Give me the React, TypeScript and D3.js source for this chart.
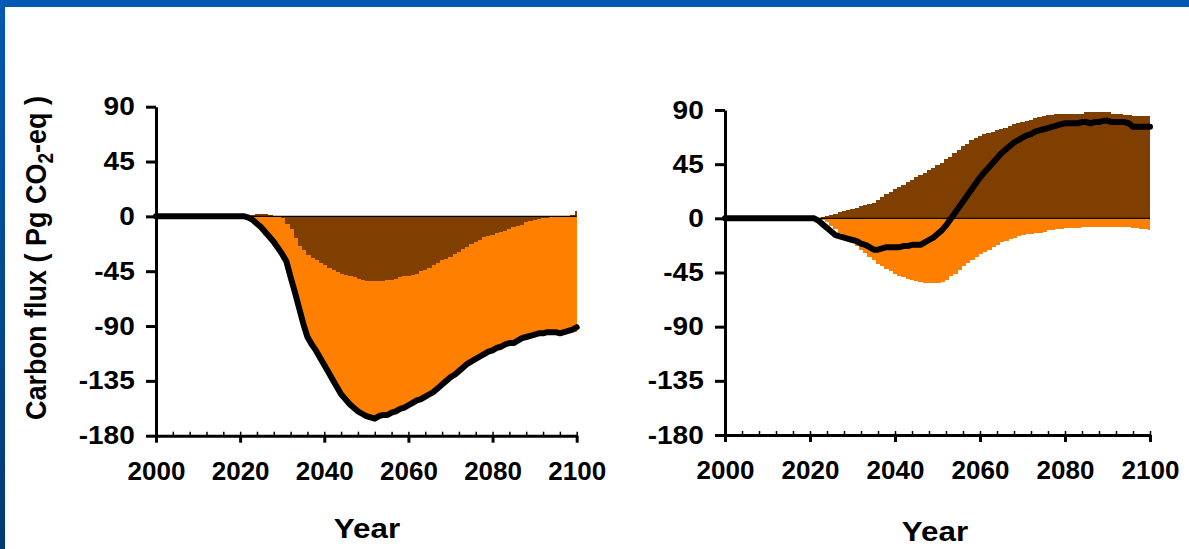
import { useEffect, useRef } from "react"
import {
  axisBottom,
  axisLeft,
  line,
  range,
  scaleLinear,
  select,
  stack,
  stackOffsetDiverging
} from "d3"

const years = range(2000, 2101)
const yTicks = [90, 45, 0, -45, -90, -135, -180]
const xTicks = [2000, 2020, 2040, 2060, 2080, 2100]
const minorTicks = range(2000, 2101, 4)

// left panel: net flux (black line) and the dark component; orange = net - dark
const leftNet = [
  0, 0, 0, 0, 0, 0, 0, 0, 0, 0, 0, 0, 0, 0, 0, 0, 0, 0, 0, 0, 0, 0,
  -1, -3, -6, -9, -13, -17, -21, -26, -31,
  -37, -50, -62, -75, -88, -99, -105, -110, -116, -122,
  -128, -134, -140, -146, -150, -154, -157, -160, -162, -164,
  -165, -166, -164, -163, -163, -161, -160, -158, -157, -155,
  -153, -151, -150, -148, -146, -144, -141, -138, -135, -132,
  -130, -127, -124, -121, -119, -117, -115, -113, -111, -110,
  -108, -107, -105, -104, -104, -102, -100, -99, -98, -97,
  -96, -96, -95, -95, -95, -96, -95, -94, -93, -91
]
const leftBrown = [
  0, 0, 0, 0, 0, 0, 0, 0, 0, 0, 0, 0, 0, 0, 0, 0, 0, 0, 0, 0, 0, 0, 0,
  1, 2, 2, 2, 1, 0, 0, -1,
  -6, -10, -18, -24, -28, -32, -34, -36, -38, -40,
  -42, -44, -46, -47, -48, -49, -50, -51, -52, -53,
  -53, -53, -53, -53, -52, -52, -51, -50, -49, -49,
  -48, -47, -45, -44, -42, -40, -38, -36, -35, -33,
  -31, -29, -27, -25, -23, -21, -19, -17, -16, -15,
  -14, -13, -12, -10, -9, -8, -7, -5, -4, -3,
  -2, -1, -1, 0, 0, 0, 0, 0, 1, 4
]

// right panel
const rightNet = [
  0, 0, 0, 0, 0, 0, 0, 0, 0, 0, 0, 0, 0, 0, 0, 0, 0, 0, 0, 0, 0, 0,
  -2, -5, -8, -11, -14, -15, -16, -17, -18,
  -19, -21, -22, -24, -26, -26, -25, -24, -24, -24,
  -24, -23, -23, -22, -22, -22, -20, -18, -16, -13,
  -10, -6, -1, 4, 9, 14, 19, 24, 29, 34,
  38, 42, 46, 50, 54, 57, 60, 63, 65, 67,
  69, 70, 72, 73, 74, 75, 76, 77, 78, 79,
  79, 79, 79, 80, 80, 79, 80, 80, 81, 81,
  80, 80, 80, 80, 79, 76, 76, 76, 76, 76
]
const rightBrown = [
  0, 0, 0, 0, 0, 0, 0, 0, 0, 0, 0, 0, 0, 0, 0, 0, 0, 0, 0, 0, 0, 0, 0,
  1, 2, 3, 4, 5, 6, 7, 8,
  9, 10, 11, 12, 13, 15, 18, 20, 22, 24,
  26, 28, 30, 32, 34, 36, 38, 40, 42, 44,
  46, 49, 51, 54, 57, 60, 62, 65, 67, 68,
  70, 71, 72, 73, 74, 75, 77, 78, 79, 80,
  81, 82, 83, 84, 85, 86, 86, 87, 87, 87,
  87, 87, 87, 87, 88, 88, 88, 88, 88, 88,
  87, 87, 87, 86, 86, 85, 85, 85, 85, 85
]
const rightOrange = [
  0, 0, 0, 0, 0, 0, 0, 0, 0, 0, 0, 0, 0, 0, 0, 0, 0, 0, 0, 0, 0, 0, 0,
  -1, -3, -6, -9, -12, -15, -17, -20,
  -23, -26, -29, -32, -35, -38, -40, -42, -44, -46,
  -48, -49, -50, -51, -52, -53, -54, -54, -54, -54,
  -53, -51, -48, -46, -43, -40, -37, -35, -32, -30,
  -28, -26, -24, -22, -20, -19, -17, -16, -15, -14,
  -13, -13, -12, -12, -11, -10, -10, -9, -9, -8,
  -8, -8, -8, -7, -7, -7, -7, -7, -7, -7,
  -7, -7, -7, -7, -7, -8, -8, -9, -9, -10
]

const BROWN = "#7f3f00"
const ORANGE = "#ff8000"
const FONT = "'Liberation Sans', Arial, sans-serif"

function AxisY({ scale, x }) {
  const ref = useRef(null)
  useEffect(() => {
    if (!ref.current) return
    const g = select(ref.current)
    g.call(axisLeft(scale).tickValues(yTicks).tickSize(10).tickSizeOuter(0).tickPadding(9).tickFormat(d => String(d)))
    g.attr("font-size", null).attr("font-family", null)
    g.select(".domain").attr("stroke-width", 3).attr("stroke", "#000")
    g.selectAll(".tick line").attr("stroke-width", 3).attr("stroke", "#000")
    g.selectAll(".tick text")
      .attr("font-size", 25)
      .attr("font-weight", "bold")
      .attr("font-family", FONT)
      .attr("fill", "#000")
      .attr("transform", "scale(1.12,1)")
  }, [scale])
  return <g ref={ref} transform={`translate(${x},0)`} />
}

function AxisX({ scale, y }) {
  const ref = useRef(null)
  const minorRef = useRef(null)
  useEffect(() => {
    if (!ref.current) return
    const g = select(ref.current)
    g.call(axisBottom(scale).tickValues(xTicks).tickSize(7).tickSizeOuter(0).tickPadding(19).tickFormat(d => String(d)))
    g.attr("font-size", null).attr("font-family", null)
    g.select(".domain").attr("stroke-width", 3).attr("stroke", "#000")
    g.selectAll(".tick line").attr("stroke-width", 3).attr("stroke", "#000")
    g.selectAll(".tick text")
      .attr("font-size", 26)
      .attr("font-weight", "bold")
      .attr("font-family", FONT)
      .attr("fill", "#000")
    const m = select(minorRef.current)
    m.call(axisBottom(scale).tickValues(minorTicks).tickSize(-4).tickSizeOuter(0).tickFormat(() => ""))
    m.select(".domain").remove()
    m.selectAll(".tick line").attr("stroke-width", 1.5).attr("stroke", "#000")
  }, [scale])
  return (
    <g transform={`translate(0,${y})`}>
      <g ref={minorRef} />
      <g ref={ref} />
    </g>
  )
}

function Panel({ net, brown, orange, box, yearX, yearY }) {
  const x = scaleLinear().domain([2000, 2100]).range([box.x0, box.x1])
  const y = scaleLinear().domain([-180, 90]).range([box.yBot, box.yTop])

  const rows = years.map((yr, i) => ({ year: yr, brown: brown[i], orange: orange[i] }))
  const series = stack().keys(["brown", "orange"]).offset(stackOffsetDiverging)(rows)
  const colors = { brown: BROWN, orange: ORANGE }

  const netLine = line()
    .x((d, i) => x(years[i]))
    .y(d => y(d))

  return (
    <g>
      {series.map(s => (
        <g key={s.key} fill={colors[s.key]} shapeRendering="crispEdges">
          {s.map((d, i) => {
            if (d[0] === d[1]) return null
            const yr = years[i]
            const xa = x(Math.max(2000, yr - 0.5))
            const xb = x(Math.min(2100, yr + 0.5))
            const top = y(Math.max(d[0], d[1]))
            const bot = y(Math.min(d[0], d[1]))
            return <rect key={yr} x={xa} y={top} width={xb - xa + (yr < 2100 ? 1 : 0)} height={bot - top} />
          })}
        </g>
      ))}
      <line x1={x(2000)} x2={x(2100)} y1={y(0)} y2={y(0)} stroke="#000" strokeWidth={1.2} />
      <path d={netLine(net)} fill="none" stroke="#000" strokeWidth={6} strokeLinejoin="round" strokeLinecap="round" />
      <AxisY scale={y} x={box.x0} />
      <AxisX scale={x} y={box.yBot} />
      <text
        transform={`translate(${yearX},${yearY}) scale(1.12,1)`}
        textAnchor="middle"
        fontFamily={FONT}
        fontWeight="bold"
        fontSize={28}
        fill="#000"
      >
        Year
      </text>
    </g>
  )
}

export default function App() {
  const W = 1189
  const H = 549
  const leftOrange = leftNet.map((v, i) => v - leftBrown[i])

  return (
    <svg width={W} height={H} style={{ position: "absolute", left: 0, top: 0, display: "block" }}>
      <defs>
        <linearGradient id="frame" x1="0" y1="0" x2="0" y2="1">
          <stop offset="0" stopColor="#0059b3" />
          <stop offset="1" stopColor="#003a73" />
        </linearGradient>
      </defs>
      <rect x={0} y={0} width={W} height={H} fill="url(#frame)" />
      <rect x={5} y={7} width={W - 5} height={H - 7} fill="#fff" />

      <Panel
        net={leftNet}
        brown={leftBrown}
        orange={leftOrange}
        box={{ x0: 156, x1: 576.7, yTop: 106.7, yBot: 435.7 }}
        yearX={367}
        yearY={538}
      />
      <Panel
        net={rightNet}
        brown={rightBrown}
        orange={rightOrange}
        box={{ x0: 725, x1: 1150, yTop: 110, yBot: 435 }}
        yearX={935}
        yearY={541}
      />

      <text
        transform="translate(46,258) scale(1.12,1) rotate(-90)"
        textAnchor="middle"
        fontFamily={FONT}
        fontWeight="bold"
        fontSize={27}
        fill="#000"
      >
        Carbon flux ( Pg CO<tspan dy={6} fontSize={19}>2</tspan><tspan dy={-6}>-eq )</tspan>
      </text>
    </svg>
  )
}
